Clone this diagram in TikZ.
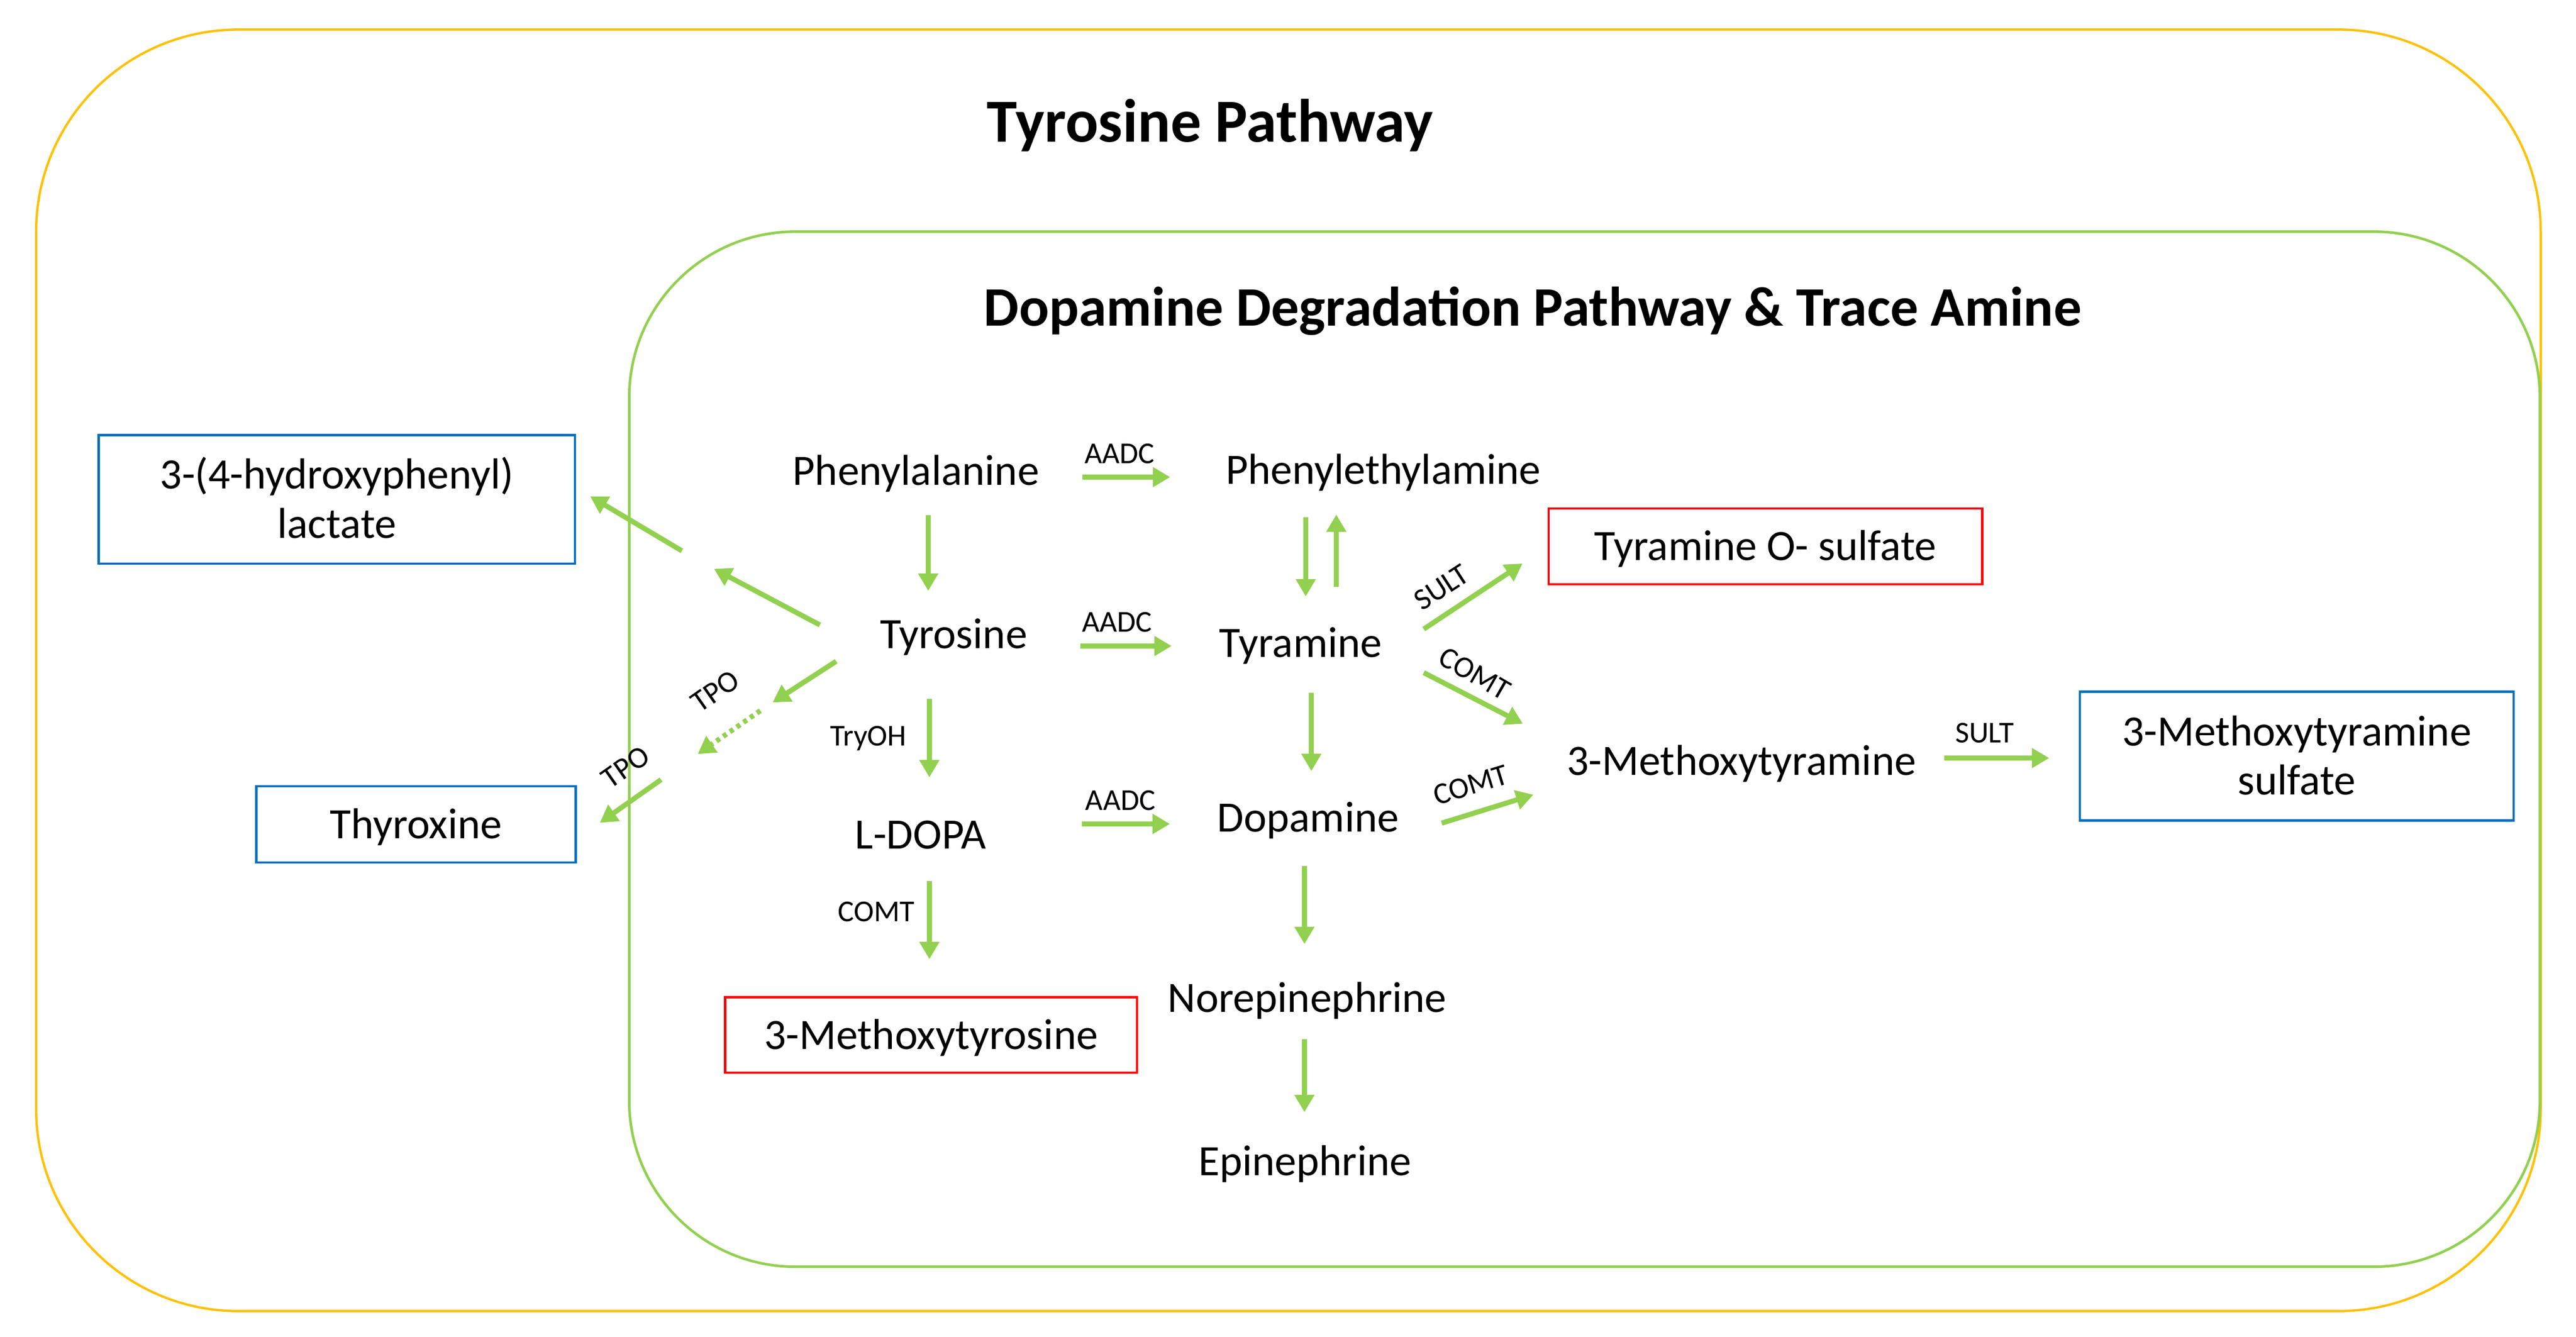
\documentclass[tikz,border=0pt]{standalone}
\usepackage{fontspec}
\setmainfont{Carlito}
\usetikzlibrary{arrows.meta}

\definecolor{leaf}{HTML}{92D050}
\definecolor{amber}{HTML}{FFC000}
\definecolor{sky}{HTML}{0070C0}

\tikzset{
  cpd/.style={font=\fontsize{15}{17}\selectfont, inner sep=0pt, text height=9.7pt, text depth=0pt},
  enz/.style={font=\fontsize{10.5}{12}\selectfont, inner sep=0pt, text height=6.8pt, text depth=0pt},
  ttl/.style={font=\bfseries, inner sep=0pt, text depth=0pt},
  arr/.style={draw=leaf, line width=1.75pt, -{Triangle[length=6pt,width=6.6pt]}},
  bluebox/.style={cpd, draw=sky, line width=0.77pt},
  redbox/.style={cpd, draw=red, line width=0.77pt},
}

\begin{document}
\begin{tikzpicture}[x=0.02cm, y=-0.02cm]
\useasboundingbox (0,0) rectangle (1568,813.5);

% the two pathway frames
\draw[amber, line width=0.8pt, rounded corners=2.46cm] (22,18) rectangle (1546.5,798);
\draw[leaf, line width=0.9pt, rounded corners=2.02cm] (383,141) rectangle (1546,771);

\node[ttl, font=\fontsize{21.2}{24}\selectfont\bfseries, text height=13.6pt] (ttl1) at (736.5,74.5) {Tyrosine Pathway};
\node[ttl, font=\fontsize{19.3}{23}\selectfont\bfseries, text height=12.4pt] (ttl2) at (933,187.5) {Dopamine Degradation Pathway \& Trace Amine};

% compounds
\node[cpd] (phe) at (557.5,286.7) {Phenylalanine};
\node[cpd] (pea) at (842,286) {Phenylethylamine};
\node[cpd] (tyr) at (580.5,386) {Tyrosine};
\node[cpd] (tyra) at (791.7,391.5) {Tyramine};
\node[cpd] (ldopa) at (560.4,508) {L-DOPA};
\node[cpd] (dopa) at (796.2,497.8) {Dopamine};
\node[cpd] (ne) at (795.7,607.5) {Norepinephrine};
\node[cpd] (epi) at (794.3,706.8) {Epinephrine};
\node[cpd] (mtyra) at (1060,463.3) {3-Methoxytyramine};

% end products
\node[bluebox, minimum width=5.8cm, minimum height=1.566cm, align=center, text height=26.7pt, text depth=0pt] (lact) at (205,304) {3-(4-hydroxyphenyl)\\lactate};
\node[bluebox, minimum width=3.89cm, minimum height=0.928cm] (thyr) at (253.2,501.7) {Thyroxine};
\node[redbox, minimum width=5.28cm, minimum height=0.92cm] (tos) at (1074.6,332.6) {Tyramine O- sulfate};
\node[redbox, minimum width=5.014cm, minimum height=0.92cm] (mtyr) at (566.7,630) {3-Methoxytyrosine};
\node[bluebox, minimum width=5.28cm, minimum height=1.568cm, align=center, text height=26.7pt, text depth=0pt] (mts) at (1398,460.2) {3-Methoxytyramine\\sulfate};

% enzymes
\node[enz] (aadc1) at (681.6,276) {AADC};
\node[enz] (aadc2) at (680,378.5) {AADC};
\node[enz] (aadc3) at (682,487) {AADC};
\node[enz] (tryoh) at (528.5,448) {TryOH};
\node[enz] (comt1) at (533.5,555) {COMT};
\node[enz, rotate=33] (sult1) at (877.4,357.4) {SULT};
\node[enz, rotate=-30] (comt2) at (897.7,410) {COMT};
\node[enz, rotate=17] (comt3) at (895.2,477.7) {COMT};
\node[enz] (sult2) at (1208,446) {SULT};
\node[enz, rotate=35] (tpo1) at (435.3,420.6) {TPO};
\node[enz, rotate=35] (tpo2) at (380.7,466.8) {TPO};

% breaks in the side branches
\coordinate (lacgap) at (424.7,341);
\coordinate (thygap1) at (466.5,430);
\coordinate (thygap2) at (413.5,466.7);

% reactions
\draw[arr] ([shift={(26,3.7)}]phe.east) -- ([shift={(-33.5,4.4)}]pea.west);
\draw[arr] ([shift={(32,7.2)}]tyr.east) -- ([shift={(-28.7,1.7)}]tyra.west);
\draw[arr] ([shift={(58,-6.5)}]ldopa.east) -- ([shift={(-28.4,3.7)}]dopa.west);
\draw[arr] ([shift={(7.5,18)}]phe.south) -- ([shift={(-15.5,-17.5)}]tyr.north);
\draw[arr] ([shift={(-14.8,30.5)}]tyr.south) -- ([shift={(5.3,-26)}]ldopa.north);
\draw[arr] ([shift={(5.3,19.5)}]ldopa.south) -- ([shift={(-1,-22.5)}]mtyr.north);
\draw[arr] ([shift={(-47.2,19.9)}]pea.south) -- ([shift={(3.1,-19.6)}]tyra.north);
\draw[arr] ([shift={(21.7,-25.4)}]tyra.north) -- ([shift={(-28.6,18.3)}]pea.south);
\draw[arr] ([shift={(6.5,21.3)}]tyra.south) -- ([shift={(2,-19.6)}]dopa.north);
\draw[arr] ([shift={(-2.2,20.6)}]dopa.south) -- ([shift={(-1.7,-24)}]ne.north);
\draw[arr] ([shift={(-1.7,16.2)}]ne.south) -- ([shift={(-0.3,-21)}]epi.north);
\draw[arr] ([shift={(25.1,-8.6)}]tyra.east) -- ([shift={(-15.2,10.4)}]tos.west);
\draw[arr] ([shift={(25.1,17.9)}]tyra.east) -- ([shift={(-26.4,-22.8)}]mtyra.west);
\draw[arr] ([shift={(25.7,3.2)}]dopa.east) -- ([shift={(-20,20.4)}]mtyra.west);
\draw[arr] ([shift={(16.8,-1.9)}]mtyra.east) -- ([shift={(-18,1.2)}]mts.west);

\draw[arr, shorten >=0.224cm] ([shift={(-36.3,-5.6)}]tyr.west) -- (lacgap);
\draw[arr, shorten <=0.224cm] (lacgap) -- ([shift={(8.6,-1.9)}]lact.east);

\draw[arr, shorten >=0.09cm] ([shift={(-26.4,16.5)}]tyr.west) -- (thygap1);
\draw[arr, dash pattern=on 0.05cm off 0.05cm, shorten <=0.09cm, shorten >=0.272cm] (thygap1) -- (thygap2);
\draw[arr, shorten <=0.272cm] (thygap2) -- ([shift={(14,-0.9)}]thyr.east);
\end{tikzpicture}
\end{document}
